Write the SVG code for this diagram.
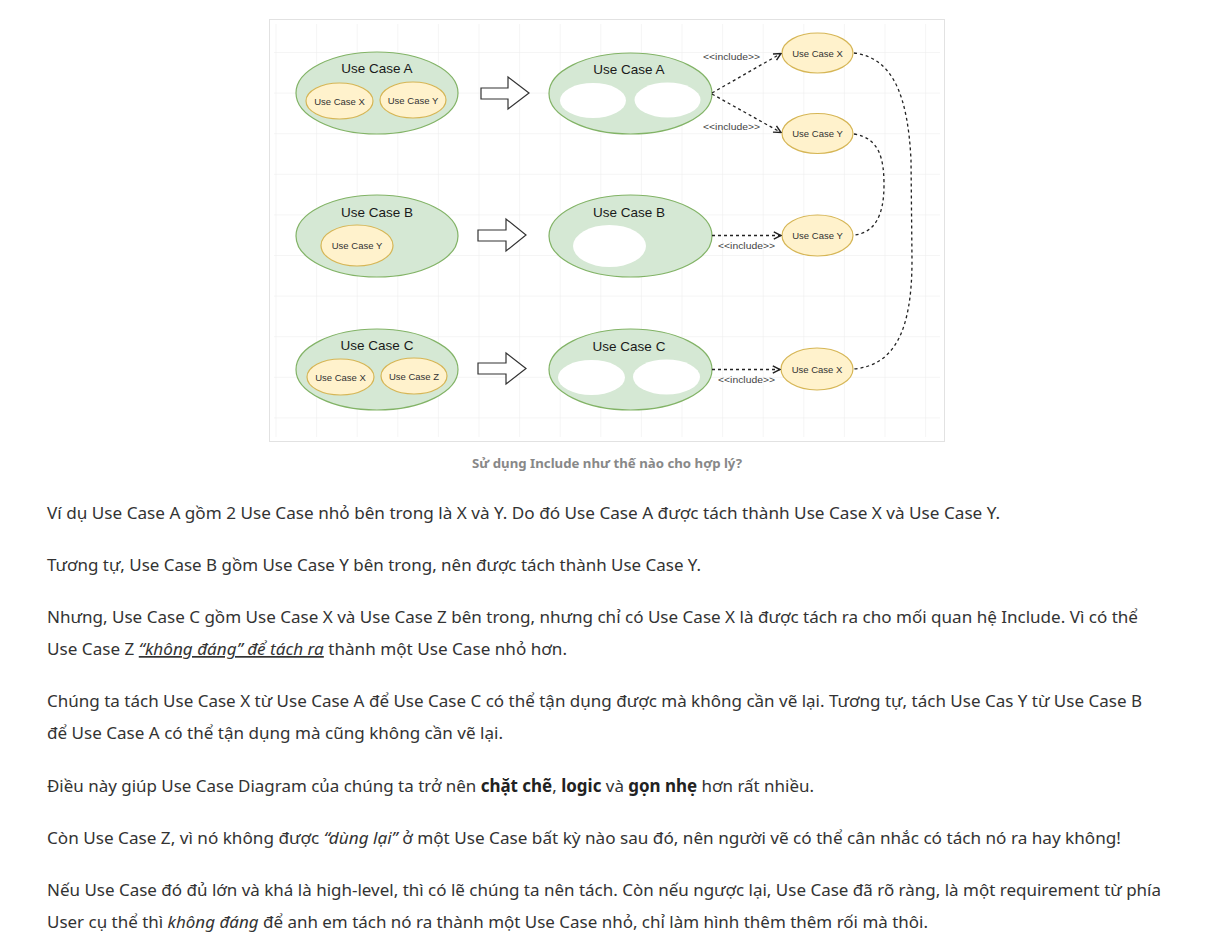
<svg xmlns="http://www.w3.org/2000/svg" width="1214" height="943" viewBox="0 0 1214 943">
<style>
.big{fill:#d5e8d4;stroke:#82b366;stroke-width:1.2}
.small{fill:#fff2cc;stroke:#d6b656;stroke-width:1.2}
.hole{fill:#ffffff;stroke:none}
.blk{fill:#ffffff;stroke:#333333;stroke-width:1.2}
.lbl{font-family:"Liberation Sans",Arial,sans-serif;font-size:13.5px;fill:#1a1a1a;text-anchor:middle}
.sl{font-family:"Liberation Sans",Arial,sans-serif;font-size:9.5px;fill:#333333;text-anchor:middle}
.inc{font-family:"Liberation Sans",Arial,sans-serif;font-size:9px;fill:#444444;text-anchor:middle}
.dash{fill:none;stroke:#222222;stroke-width:1.3;stroke-dasharray:3 3}
.body{font-family:"Noto Sans","Open Sans",sans-serif;font-size:17px;fill:#333333}
.cap{font-family:"Noto Sans","Open Sans",sans-serif;font-size:12px;font-weight:bold;fill:#888888;text-anchor:middle}
</style>
<defs>
<pattern id="grid" x="275.5" y="11.4" width="40.6" height="40.6" patternUnits="userSpaceOnUse">
<path d="M0,0 H40.6 M0,0 V40.6" fill="none" stroke="#ebebeb" stroke-width="1"/>
</pattern>
<marker id="open" viewBox="0 0 10 10" refX="9" refY="5" markerWidth="9" markerHeight="9" markerUnits="userSpaceOnUse" orient="auto">
<path d="M1,1 L9,5 L1,9" fill="none" stroke="#222222" stroke-width="1.6"/>
</marker>
</defs>
<rect width="1214" height="943" fill="#ffffff"/>
<rect x="269.5" y="19.5" width="675" height="422" fill="#ffffff" stroke="#e2e2e2"/>
<rect x="274" y="24" width="666" height="413" fill="url(#grid)"/>

<g id="ucA-left">
<ellipse class="big" cx="377" cy="93" rx="81" ry="41"/>
<text class="lbl" x="377" y="73">Use Case A</text>
<ellipse class="small" cx="339.5" cy="101" rx="33.5" ry="18"/>
<text class="sl" x="339.5" y="104.5">Use Case X</text>
<ellipse class="small" cx="413" cy="100" rx="33" ry="18"/>
<text class="sl" x="413" y="103.5">Use Case Y</text>
</g>
<g id="arrow-A"><polygon class="blk" points="481,88 508,88 508,77 529,93 508,109 508,99 481,99"/></g>
<g id="ucA-mid">
<ellipse class="big" cx="630.5" cy="93.5" rx="81.5" ry="40.5"/>
<text class="lbl" x="629" y="74">Use Case A</text>
<ellipse class="hole" cx="593" cy="100.5" rx="33" ry="17.5"/>
<ellipse class="hole" cx="667.5" cy="100" rx="33" ry="17.5"/>
</g>
<g id="ucX-top">
<ellipse class="small" cx="817.5" cy="53" rx="35.5" ry="20"/>
<text class="sl" x="817.5" y="56.5">Use Case X</text>
</g>
<g id="ucY-top">
<ellipse class="small" cx="817.5" cy="133.5" rx="35.5" ry="20"/>
<text class="sl" x="817.5" y="137">Use Case Y</text>
</g>

<g id="ucB-left">
<ellipse class="big" cx="377" cy="236" rx="81" ry="41"/>
<text class="lbl" x="377" y="216.5">Use Case B</text>
<ellipse class="small" cx="357" cy="245.5" rx="36" ry="20.5"/>
<text class="sl" x="357" y="249">Use Case Y</text>
</g>
<g id="arrow-B"><polygon class="blk" points="478,230 506,230 506,219 526,235 506,251 506,241 478,241"/></g>
<g id="ucB-mid">
<ellipse class="big" cx="630.5" cy="236" rx="81.5" ry="41"/>
<text class="lbl" x="629" y="216.5">Use Case B</text>
<ellipse class="hole" cx="609.5" cy="246" rx="36.5" ry="21"/>
</g>
<g id="ucY-mid">
<ellipse class="small" cx="817.5" cy="235.5" rx="35.5" ry="20.5"/>
<text class="sl" x="817.5" y="239">Use Case Y</text>
</g>

<g id="ucC-left">
<ellipse class="big" cx="377" cy="369.5" rx="81" ry="40.5"/>
<text class="lbl" x="377" y="349.5">Use Case C</text>
<ellipse class="small" cx="340.5" cy="377" rx="33.5" ry="18"/>
<text class="sl" x="340.5" y="380.5">Use Case X</text>
<ellipse class="small" cx="414" cy="376" rx="33" ry="18"/>
<text class="sl" x="414" y="379.5">Use Case Z</text>
</g>
<g id="arrow-C"><polygon class="blk" points="478,363 506,363 506,353 526,368.5 506,384 506,374 478,374"/></g>
<g id="ucC-mid">
<ellipse class="big" cx="630.5" cy="369.5" rx="81.5" ry="40.5"/>
<text class="lbl" x="629" y="350.5">Use Case C</text>
<ellipse class="hole" cx="591.5" cy="377.5" rx="33.5" ry="17.5"/>
<ellipse class="hole" cx="666.5" cy="377" rx="33.5" ry="17.5"/>
</g>
<g id="ucX-bot">
<ellipse class="small" cx="817" cy="369" rx="36" ry="21"/>
<text class="sl" x="817" y="372.5">Use Case X</text>
</g>

<g id="connectors">
<path class="dash" d="M712,93 L781,53.5" marker-end="url(#open)"/>
<path class="dash" d="M712,94 L781,132.5" marker-end="url(#open)"/>
<path class="dash" d="M712,235.5 L781,235.5" marker-end="url(#open)"/>
<path class="dash" d="M712,369.5 L780,369.5" marker-end="url(#open)"/>
<path class="dash" d="M854,53 C895,58 908,100 911,160 L912,260 C912,330 895,365 854,369"/>
<path class="dash" d="M854,134 C880,138 884,160 884,185 C884,215 875,233 854,235"/>
<text class="inc" x="731.5" y="60" textLength="57" lengthAdjust="spacingAndGlyphs">&lt;&lt;include&gt;&gt;</text>
<text class="inc" x="731.5" y="130" textLength="57" lengthAdjust="spacingAndGlyphs">&lt;&lt;include&gt;&gt;</text>
<text class="inc" x="746.5" y="249" textLength="57" lengthAdjust="spacingAndGlyphs">&lt;&lt;include&gt;&gt;</text>
<text class="inc" x="746.5" y="383" textLength="57" lengthAdjust="spacingAndGlyphs">&lt;&lt;include&gt;&gt;</text>
</g>

<text class="cap" x="607" y="468" textLength="270" lengthAdjust="spacingAndGlyphs">Sử dụng Include như thế nào cho hợp lý?</text>

<g id="body-text">
<text class="body" x="47" y="519" textLength="953" lengthAdjust="spacingAndGlyphs">Ví dụ Use Case A gồm 2 Use Case nhỏ bên trong là X và Y. Do đó Use Case A được tách thành Use Case X và Use Case Y.</text>
<text class="body" x="47" y="571" textLength="654" lengthAdjust="spacingAndGlyphs">Tương tự, Use Case B gồm Use Case Y bên trong, nên được tách thành Use Case Y.</text>
<text class="body" x="47" y="623" textLength="1091" lengthAdjust="spacingAndGlyphs">Nhưng, Use Case C gồm Use Case X và Use Case Z bên trong, nhưng chỉ có Use Case X là được tách ra cho mối quan hệ Include. Vì có thể</text>
<text class="body" x="47" y="655" textLength="520" lengthAdjust="spacingAndGlyphs">Use Case Z <tspan font-style="italic" text-decoration="underline">“không đáng” để tách ra</tspan> thành một Use Case nhỏ hơn.</text>
<text class="body" x="47" y="707" textLength="1095" lengthAdjust="spacingAndGlyphs">Chúng ta tách Use Case X từ Use Case A để Use Case C có thể tận dụng được mà không cần vẽ lại. Tương tự, tách Use Cas Y từ Use Case B</text>
<text class="body" x="47" y="739" textLength="456" lengthAdjust="spacingAndGlyphs">để Use Case A có thể tận dụng mà cũng không cần vẽ lại.</text>
<text class="body" x="47" y="792" textLength="767" lengthAdjust="spacingAndGlyphs">Điều này giúp Use Case Diagram của chúng ta trở nên <tspan font-weight="bold" fill="#222222">chặt chẽ</tspan>, <tspan font-weight="bold" fill="#222222">logic</tspan> và <tspan font-weight="bold" fill="#222222">gọn nhẹ</tspan> hơn rất nhiều.</text>
<text class="body" x="47" y="844" textLength="1074" lengthAdjust="spacingAndGlyphs">Còn Use Case Z, vì nó không được <tspan font-style="italic">“dùng lại”</tspan> ở một Use Case bất kỳ nào sau đó, nên người vẽ có thể cân nhắc có tách nó ra hay không!</text>
<text class="body" x="47" y="896" textLength="1114" lengthAdjust="spacingAndGlyphs">Nếu Use Case đó đủ lớn và khá là high-level, thì có lẽ chúng ta nên tách. Còn nếu ngược lại, Use Case đã rõ ràng, là một requirement từ phía</text>
<text class="body" x="47" y="928" textLength="881" lengthAdjust="spacingAndGlyphs">User cụ thể thì <tspan font-style="italic">không đáng</tspan> để anh em tách nó ra thành một Use Case nhỏ, chỉ làm hình thêm thêm rối mà thôi.</text>
</g>
</svg>
